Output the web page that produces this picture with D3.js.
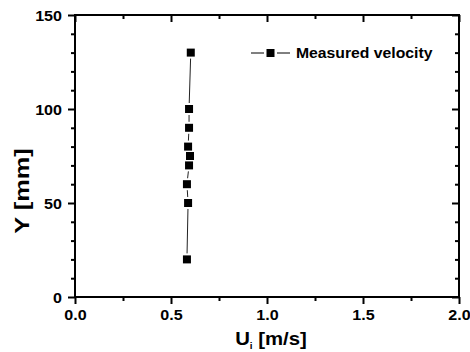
<!DOCTYPE html>
<html>
<head>
<meta charset="utf-8">
<script src="https://cdn.jsdelivr.net/npm/d3@7"></script>
<style>
  html, body { margin: 0; padding: 0; background: #fff; }
  svg { display: block; }
  text { font-family: Arial, "Liberation Sans", Helvetica, sans-serif; font-weight: bold; fill: #000; }
</style>
</head>
<body>
<svg id="chart" width="470" height="352"></svg>
<script>
// Velocity profile: measured streamwise velocity U_i against height Y
const heightMm = [20, 50, 60, 70, 75, 80, 90, 100, 130];
const velocity = [0.583, 0.589, 0.583, 0.594, 0.599, 0.589, 0.594, 0.594, 0.603];
const xTicks = [0, 0.5, 1.0, 1.5, 2.0];
const yTicks = [0, 50, 100, 150];
const seriesName = "Measured velocity";

const svg = d3.select("#chart");
const W = 470, H = 352;
const m = { left: 75, right: 11, top: 15, bottom: 55 };

const x = d3.scaleLinear().domain([0, 2]).range([m.left, W - m.right]);
const y = d3.scaleLinear().domain([0, 150]).range([H - m.bottom, m.top]);

const stretch = 1.15;

// minor tick values
const xMinor = d3.range(0, 2.0001, 0.25).filter(v => !xTicks.some(t => Math.abs(t - v) < 1e-6));
const yMinor = d3.range(0, 150.001, 10).filter(v => !yTicks.some(t => Math.abs(t - v) < 1e-6));

function styleAxis(g) {
  g.select(".domain").remove();
  g.selectAll("line").attr("stroke", "#000").attr("stroke-width", 2);
}

// bottom axis: major ticks outward with labels
const gx = svg.append("g").attr("transform", `translate(0,${y(0)})`)
  .call(d3.axisBottom(x).tickValues(xTicks).tickSize(7).tickFormat(d3.format(".1f")));
styleAxis(gx);
gx.selectAll("text").attr("y", 23).attr("dy", 0).attr("font-size", 14)
  .attr("transform", `scale(${stretch},1)`);
svg.append("g").attr("transform", `translate(0,${y(0)})`)
  .call(d3.axisBottom(x).tickValues(xMinor).tickSize(4).tickFormat(""))
  .call(styleAxis);

// left axis
const gy = svg.append("g").attr("transform", `translate(${x(0)},0)`)
  .call(d3.axisLeft(y).tickValues(yTicks).tickSize(7).tickFormat(d3.format("d")));
styleAxis(gy);
gy.selectAll("text").attr("x", -13 / stretch).attr("dy", "0.36em").attr("font-size", 14)
  .attr("transform", `scale(${stretch},1)`);
svg.append("g").attr("transform", `translate(${x(0)},0)`)
  .call(d3.axisLeft(y).tickValues(yMinor).tickSize(4).tickFormat(""))
  .call(styleAxis);

// top and right mirror axes with inward ticks
svg.append("g").attr("transform", `translate(0,${y(150)})`)
  .call(d3.axisTop(x).tickValues(xTicks).tickSize(-7).tickFormat(""))
  .call(styleAxis);
svg.append("g").attr("transform", `translate(0,${y(150)})`)
  .call(d3.axisTop(x).tickValues(xMinor).tickSize(-4).tickFormat(""))
  .call(styleAxis);
svg.append("g").attr("transform", `translate(${x(2)},0)`)
  .call(d3.axisRight(y).tickValues(yTicks).tickSize(-7).tickFormat(""))
  .call(styleAxis);
svg.append("g").attr("transform", `translate(${x(2)},0)`)
  .call(d3.axisRight(y).tickValues(yMinor).tickSize(-4).tickFormat(""))
  .call(styleAxis);

// frame
svg.append("rect")
  .attr("x", x(0)).attr("y", y(150))
  .attr("width", x(2) - x(0)).attr("height", y(0) - y(150))
  .attr("fill", "none").attr("stroke", "#000").attr("stroke-width", 2);

// data: connecting segments with a small gap around each marker
const pts = heightMm.map((h, i) => ({ px: x(velocity[i]), py: y(h) }));
const gap = 6;
const segs = [];
for (let i = 0; i < pts.length - 1; i++) {
  const a = pts[i], b = pts[i + 1];
  const dx = b.px - a.px, dy = b.py - a.py, len = Math.hypot(dx, dy);
  if (len > 2 * gap) {
    const ux = dx / len, uy = dy / len;
    segs.push([a.px + ux * gap, a.py + uy * gap, b.px - ux * gap, b.py - uy * gap]);
  }
}
svg.append("g").selectAll("line").data(segs).join("line")
  .attr("x1", d => d[0]).attr("y1", d => d[1])
  .attr("x2", d => d[2]).attr("y2", d => d[3])
  .attr("stroke", "#222").attr("stroke-width", 1);

const ms = 8;
svg.append("g").selectAll("rect").data(pts).join("rect")
  .attr("x", d => d.px - ms / 2).attr("y", d => d.py - ms / 2)
  .attr("width", ms).attr("height", ms).attr("fill", "#000");

// legend
const lg = svg.append("g").attr("transform", "translate(251,53)");
lg.append("line").attr("x1", 0).attr("x2", 13).attr("y1", 0).attr("y2", 0).attr("stroke", "#000").attr("stroke-width", 1);
lg.append("line").attr("x1", 26).attr("x2", 39).attr("y1", 0).attr("y2", 0).attr("stroke", "#000").attr("stroke-width", 1);
lg.append("rect").attr("x", 19.5 - ms / 2).attr("y", -ms / 2).attr("width", ms).attr("height", ms).attr("fill", "#000");
lg.append("text").attr("transform", "translate(45,0) scale(1.05,1)")
  .attr("dy", "0.36em").attr("font-size", 15).text(seriesName);

// axis titles
const xt = svg.append("text")
  .attr("transform", `translate(${(x(0) + x(2)) / 2 + 4},345) scale(1.1,1)`)
  .attr("text-anchor", "middle").attr("font-size", 18.5);
xt.append("tspan").text("U");
xt.append("tspan").attr("font-size", 9).attr("dy", 4).text("i");
xt.append("tspan").attr("dy", -4).text(" [m/s]");

svg.append("text")
  .attr("transform", `translate(29,191) rotate(-90) scale(1.3,1)`)
  .attr("text-anchor", "middle").attr("font-size", 19.5)
  .text("Y [mm]");
</script>
</body>
</html>
